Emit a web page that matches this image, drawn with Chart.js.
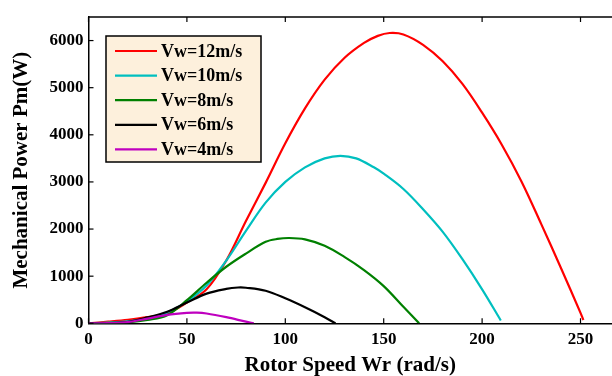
<!DOCTYPE html>
<html>
<head>
<meta charset="utf-8">
<script src="https://cdn.jsdelivr.net/npm/chart.js@4/dist/chart.umd.min.js"></script>
<style>
  html, body { margin: 0; padding: 0; background: #ffffff; }
  #wrap { width: 612px; height: 376px; position: relative; }
</style>
</head>
<body>
<div id="wrap"><canvas id="c" width="612" height="376"></canvas></div>
<script>
// ---- data ----
const seriesLabels = ["Vw=12m/s", "Vw=10m/s", "Vw=8m/s", "Vw=6m/s", "Vw=4m/s"];
const seriesColors = ["#ff0000", "#00bfbf", "#008000", "#000000", "#bf00bf"];

const speed12 = [0,10,20,30,40,50,60,70,80,90,100,110,120,130,140,147,153,160,170,180,190,200,210,220,230,240,250,251.5];
const power12 = [0,35,75,130,210,440,720,1330,2170,2980,3820,4560,5170,5630,5950,6100,6160,6130,5910,5560,5080,4470,3790,3010,2110,1180,220,70];

const speed10 = [0,10,20,30,40,50,60,70,80,90,100,110,120,128,136,145,150,160,170,180,190,200,209.5];
const power10 = [0,15,40,100,230,460,800,1330,1960,2560,3000,3310,3500,3555,3500,3310,3175,2850,2420,1940,1360,720,60];

const speed8 = [0,10,20,30,40,50,60,70,80,90,96,102,110,120,130,140,150,160,168];
const power8 = [0,5,20,70,170,490,860,1200,1480,1730,1790,1810,1780,1645,1410,1130,790,350,0];

const speed6 = [0,10,20,30,40,50,60,70,76,80,90,100,110,120,125.5];
const power6 = [0,3,30,125,245,440,630,730,760,755,690,530,340,130,0];

const speed4 = [0,10,20,30,40,50,55,60,70,80,84];
const power4 = [0,3,25,100,180,222,226,208,130,35,0];

const xTickValues = [0, 50, 100, 150, 200, 250];
const yTickValues = [0, 1000, 2000, 3000, 4000, 5000, 6000];
const xTitle = "Rotor Speed Wr (rad/s)";
const yTitle = "Mechanical Power Pm(W)";

const allSpeeds = [speed12, speed10, speed8, speed6, speed4];
const allPowers = [power12, power10, power8, power6, power4];

const datasets = seriesLabels.map((lab, i) => ({
  label: lab,
  data: allSpeeds[i].map((s, k) => ({ x: s, y: allPowers[i][k] })),
  borderColor: seriesColors[i],
  backgroundColor: seriesColors[i],
  borderWidth: 2.2,
  pointRadius: 0,
  fill: false,
  tension: 0.35,
  order: seriesLabels.length - i
}));

const FONT = "'Liberation Serif', 'Times New Roman', serif";

const decorPlugin = {
  id: 'decor',
  afterDraw(chart) {
    const ctx = chart.ctx;
    const a = chart.chartArea;
    const xs = chart.scales.x, ys = chart.scales.y;
    ctx.save();
    ctx.strokeStyle = '#000';
    ctx.lineWidth = 1.5;
    // top border
    ctx.beginPath();
    ctx.moveTo(a.left, a.top);
    ctx.lineTo(a.right + 2, a.top);
    ctx.stroke();
    // inward ticks
    ctx.lineWidth = 1.2;
    const tl = 5;
    xs.ticks.forEach(t => {
      const px = xs.getPixelForValue(t.value);
      ctx.beginPath();
      ctx.moveTo(px, a.bottom); ctx.lineTo(px, a.bottom - tl);
      ctx.moveTo(px, a.top); ctx.lineTo(px, a.top + tl);
      ctx.stroke();
    });
    ys.ticks.forEach(t => {
      const py = ys.getPixelForValue(t.value);
      ctx.beginPath();
      ctx.moveTo(a.left, py); ctx.lineTo(a.left + tl, py);
      ctx.stroke();
    });
    // legend box
    const bx = 106, by = 36, bw = 155, bh = 126;
    ctx.fillStyle = '#fdf0dc';
    ctx.fillRect(bx, by, bw, bh);
    ctx.lineWidth = 1.5;
    ctx.strokeStyle = '#000';
    ctx.strokeRect(bx, by, bw, bh);
    ctx.font = "bold 18px " + FONT;
    ctx.textBaseline = 'middle';
    ctx.textAlign = 'left';
    chart.data.datasets.forEach((ds, i) => {
      const y = 51 + i * 24.6;
      ctx.strokeStyle = ds.borderColor;
      ctx.lineWidth = 2.2;
      ctx.beginPath();
      ctx.moveTo(115, y); ctx.lineTo(157, y);
      ctx.stroke();
      ctx.fillStyle = '#000';
      ctx.fillText(ds.label, 161, y + 1);
    });
    ctx.restore();
  }
};

new Chart(document.getElementById('c'), {
  type: 'line',
  data: { datasets },
  options: {
    responsive: false,
    animation: false,
    devicePixelRatio: 1,
    layout: { padding: { top: 17, left: 0, right: 0, bottom: 0 } },
    plugins: { legend: { display: false }, tooltip: { enabled: false } },
    scales: {
      x: {
        type: 'linear',
        min: 0,
        max: 266,
        position: 'bottom',
        afterFit: s => { s.height = 52.7; },
        afterBuildTicks: s => { s.ticks = xTickValues.map(v => ({ value: v })); },
        ticks: {
          color: '#000',
          padding: 6,
          maxRotation: 0,
          callback: v => String(v),
          font: { family: FONT, size: 17, weight: 'bold' }
        },
        grid: { display: true, drawOnChartArea: false, drawTicks: false },
        border: { display: true, color: '#000', width: 1.5 },
        title: {
          display: true,
          text: xTitle,
          color: '#000',
          padding: { top: 0, bottom: 0 },
          font: { family: FONT, size: 21, weight: 'bold', lineHeight: 1 }
        }
      },
      y: {
        min: 0,
        max: 6500,
        afterFit: s => { s.width = 88.5; },
        afterBuildTicks: s => { s.ticks = yTickValues.map(v => ({ value: v })); },
        ticks: {
          color: '#000',
          padding: 5,
          callback: v => String(v),
          font: { family: FONT, size: 17, weight: 'bold' }
        },
        grid: { display: true, drawOnChartArea: false, drawTicks: false },
        border: { display: true, color: '#000', width: 1.5 },
        title: {
          display: true,
          text: yTitle,
          color: '#000',
          padding: { top: 11, bottom: 0 },
          font: { family: FONT, size: 21, weight: 'bold', lineHeight: 1 }
        }
      }
    }
  },
  plugins: [decorPlugin]
});
</script>
</body>
</html>
